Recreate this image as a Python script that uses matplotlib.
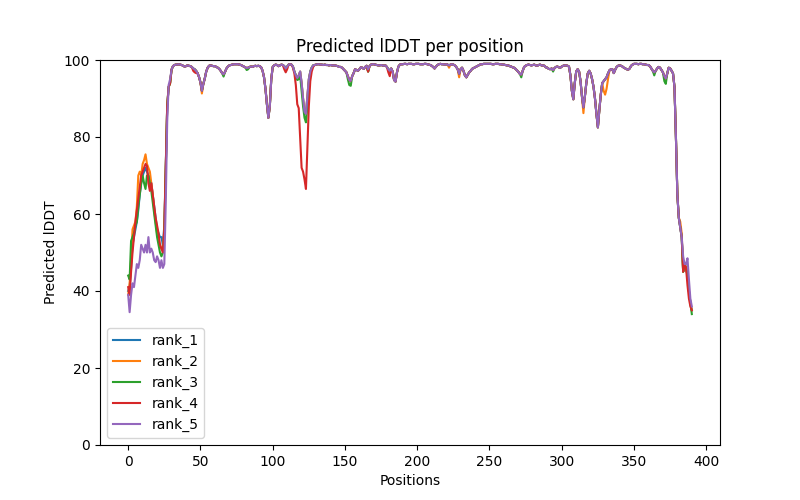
import matplotlib
matplotlib.use("Agg")
import matplotlib.pyplot as plt

# per-residue pLDDT; rank_1 is the reference track,
# the other ranks only list positions where they visibly differ from it
rank_1 = [
    40, 41, 46, 52, 54, 56, 58, 61, 65, 68,                              # 0
    70, 71, 72, 71, 70, 69, 68, 65, 62, 59,                              # 10
    56, 55, 54, 54, 52, 57, 72, 88, 93, 94,                              # 20
    97.5, 98.4, 98.7, 98.8, 98.8, 98.9, 98.8, 98.7, 98.5, 98.3,          # 30
    98.4, 98.6, 98.5, 98.4, 98.2, 97.8, 97.6, 97.2, 96.6, 95.6,          # 40
    94.2, 92.0, 93.8, 95.2, 97.0, 98.0, 98.5, 98.6, 98.5, 98.4,          # 50
    98.4, 98.2, 98.0, 97.7, 97.2, 96.6, 96.3, 96.9, 97.8, 98.3,          # 60
    98.6, 98.7, 98.8, 98.9, 98.9, 98.9, 98.9, 98.8, 98.7, 98.5,          # 70
    98.3, 98.1, 97.9, 98.0, 98.2, 98.3, 98.2, 98.4, 98.5, 98.4,          # 80
    98.5, 98.4, 98.1, 97.2, 95.5, 92.5, 88.5, 85.0, 88.0, 95.0,          # 90
    98.2, 98.6, 98.8, 98.7, 98.4, 98.6, 98.8, 98.7, 98.4, 97.8,          # 100
    98.3, 98.8, 98.9, 98.8, 98.3, 97.0, 96.0, 95.3, 96.0, 97.0,          # 110
    94.0, 90.0, 86.5, 86.0, 90.5, 95.0, 97.0, 98.0, 98.6, 98.7,          # 120
    98.8, 98.9, 98.9, 98.8, 98.8, 98.7, 98.8, 98.7, 98.7, 98.6,          # 130
    98.7, 98.6, 98.6, 98.6, 98.5, 98.4, 98.2, 98.2, 98.0, 97.6,          # 140
    97.2, 96.8, 95.8, 94.8, 94.6, 95.8, 96.6, 97.6, 97.4, 97.2,          # 150
    97.6, 98.1, 98.0, 97.7, 98.2, 98.5, 97.0, 98.4, 98.8, 98.9,          # 160
    98.9, 98.8, 98.7, 98.6, 98.6, 98.7, 98.6, 98.5, 98.6, 98.2,          # 170
    97.6, 97.2, 97.8, 97.0, 94.8, 94.4, 96.8, 98.3, 98.8, 98.9,          # 180
    98.9, 99.0, 99.0, 98.9, 99.0, 99.0, 99.0, 98.9, 98.9, 99.0,          # 190
    99.0, 99.0, 98.9, 98.9, 98.9, 99.0, 99.0, 98.9, 98.8, 98.7,          # 200
    98.5, 98.2, 97.8, 98.3, 98.7, 98.9, 99.0, 98.9, 98.9, 98.8,          # 210
    98.9, 98.8, 98.6, 98.8, 98.9, 98.8, 98.6, 98.2, 97.6, 96.4,          # 220
    97.6, 98.0, 97.2, 96.0, 95.5, 96.2, 96.8, 97.2, 97.7, 97.9,          # 230
    98.1, 98.3, 98.5, 98.7, 98.9, 98.9, 99.0, 99.0, 99.0, 99.0,          # 240
    99.0, 99.0, 98.9, 98.9, 99.0, 99.0, 99.0, 98.9, 98.9, 98.8,          # 250
    98.8, 98.7, 98.6, 98.6, 98.4, 98.3, 98.1, 98.0, 97.7, 97.3,          # 260
    96.9, 96.4, 96.2, 97.2, 98.2, 98.5, 98.7, 98.8, 98.7, 98.6,          # 270
    98.7, 98.8, 98.6, 98.5, 98.7, 98.8, 98.6, 98.6, 98.5, 98.1,          # 280
    98.0, 97.7, 97.6, 97.8, 97.4, 97.9, 98.2, 98.3, 98.1, 98.0,          # 290
    98.3, 98.5, 98.6, 98.6, 98.5, 98.3, 96.0, 92.0, 89.8, 94.0,          # 300
    97.0, 97.6, 97.0, 94.5, 90.5, 87.7, 90.5, 94.0, 96.5, 97.2,          # 310
    96.5, 95.0, 93.0, 90.0, 86.0, 82.5, 87.0, 91.0, 94.0, 94.5,          # 320
    95.0, 95.5, 96.5, 97.3, 97.6, 97.6, 96.6, 97.5, 98.2, 98.5,          # 330
    98.6, 98.5, 98.3, 98.0, 97.8, 97.6, 97.5, 97.8, 98.5, 98.8,          # 340
    99.0, 99.0, 99.0, 98.9, 99.0, 99.0, 98.9, 98.9, 98.8, 98.7,          # 350
    98.7, 98.4, 97.8, 97.2, 96.8, 97.2, 97.8, 98.2, 98.0, 97.4,          # 360
    96.8, 95.8, 95.2, 96.5, 98.0, 97.8, 97.2, 96.5, 93.0, 80.0,          # 370
    65.0, 59.0, 56.5, 54.0, 45.0, 47.0, 46.0, 44.0, 40.0, 37.0, 35.0,    # 380
]

rank_2_diff = {
    0: 39, 1: 42, 2: 48, 3: 56, 4: 57, 5: 58, 6: 62, 7: 70, 8: 71, 9: 70,
    10: 73, 11: 74, 12: 75.5, 13: 73, 14: 72, 15: 71, 16: 68, 17: 65, 18: 61,
    19: 58, 20: 55, 21: 53, 22: 52, 23: 51, 24: 51, 25: 56,
    51: 91.3, 222: 98.0, 229: 95.5, 315: 86.2,
    329: 92.0, 330: 91.0, 331: 92.5, 332: 95.0, 382: 58.0, 383: 55.0,
}
rank_3_diff = {
    0: 44, 1: 43, 2: 53, 3: 54, 4: 55, 5: 57, 6: 58, 7: 62, 8: 65, 9: 68,
    10: 70, 11: 68, 12: 66.5, 13: 70, 14: 70, 15: 68, 16: 66, 17: 63, 18: 60,
    19: 57, 20: 54, 21: 52, 22: 50, 23: 49, 24: 50, 25: 55,
    66: 95.7, 82: 97.4, 83: 97.6,
    117: 94.8, 118: 95.0, 119: 96.0, 120: 92.0, 121: 88.0, 122: 85.0,
    123: 83.8, 124: 88.0, 125: 94.0,
    152: 95.0, 153: 93.5, 154: 93.3, 272: 95.5, 294: 97.0,
    364: 96.0, 371: 94.5, 372: 93.8, 390: 34.0,
}
rank_4_diff = {
    0: 41, 1: 39, 2: 45, 3: 50, 4: 54, 5: 58, 6: 61, 7: 64, 8: 67, 9: 70,
    10: 71, 11: 72, 12: 73, 13: 72.5, 14: 68, 15: 66, 16: 68, 17: 65, 18: 62,
    19: 59, 20: 57, 21: 55, 22: 52, 23: 51, 24: 50, 25: 56,
    45: 97.2, 46: 96.8, 47: 96.6, 108: 97.6, 109: 96.8, 110: 97.6,
    114: 98.0, 115: 96.5, 116: 93.5, 117: 88.5, 118: 87.5, 119: 80.0,
    120: 72.0, 121: 71.0, 122: 69.0, 123: 66.5, 124: 77.0, 125: 88.0,
    126: 94.5, 127: 97.0, 128: 98.2, 180: 96.8, 181: 95.8,
    387: 41.5, 388: 38.0, 389: 36.0,
}
rank_5_diff = {
    0: 39, 1: 34.5, 2: 39, 3: 42, 4: 41, 5: 44, 6: 47, 7: 46, 8: 48, 9: 52,
    10: 51, 11: 50, 12: 52, 13: 50, 14: 54, 15: 50, 16: 51, 17: 50, 18: 48,
    19: 47.5, 20: 49, 21: 48, 22: 46, 23: 48, 24: 46, 25: 47,
    26: 63, 27: 84, 28: 93.5, 29: 95, 166: 97.6,
    384: 49, 385: 47, 386: 47, 387: 48.5, 388: 43, 389: 38, 390: 36,
}


def apply_diff(base, diff):
    vals = list(base)
    for pos, v in diff.items():
        vals[pos] = v
    return vals


plddts = [rank_1] + [apply_diff(rank_1, d) for d in
                     (rank_2_diff, rank_3_diff, rank_4_diff, rank_5_diff)]

plt.figure(figsize=(8, 5), dpi=100)
plt.title("Predicted lDDT per position")
for n, plddt in enumerate(plddts):
    plt.plot(plddt, label=f"rank_{n + 1}")
plt.legend(loc="lower left")
plt.ylim(0, 100)
plt.ylabel("Predicted lDDT")
plt.xlabel("Positions")
plt.savefig("out.png", dpi=100)
